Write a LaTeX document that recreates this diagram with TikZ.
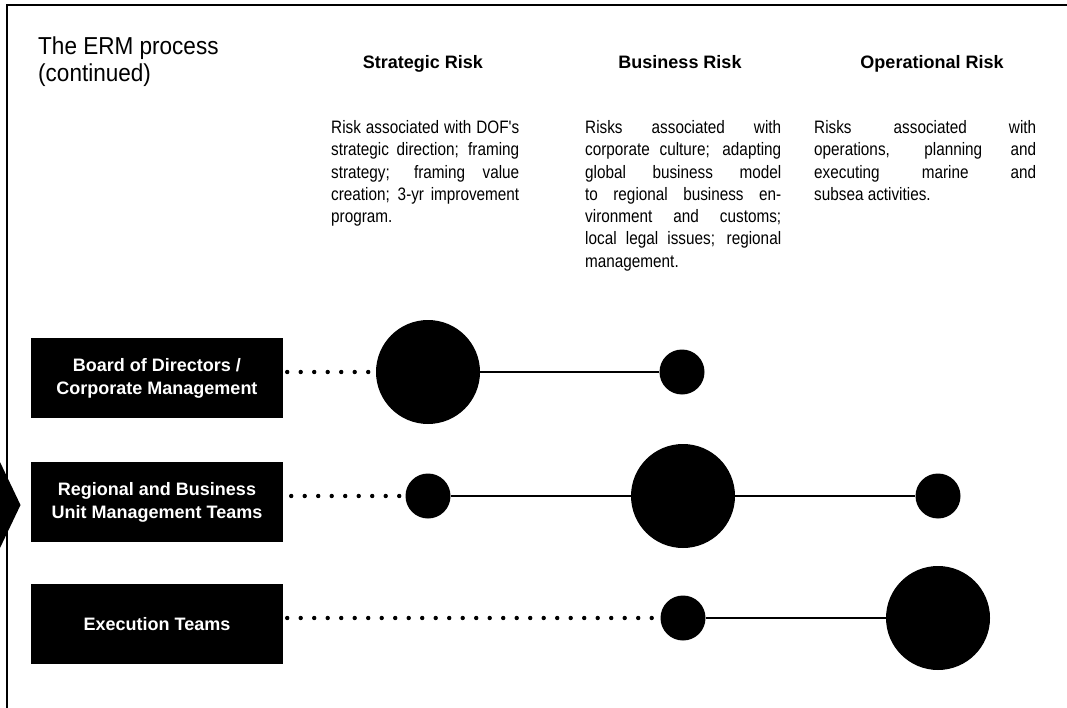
\documentclass[tikz,border=0pt]{standalone}
\usepackage{fontspec}
\setmainfont{Liberation Sans}
\newfontfamily\condfont[FakeStretch=0.85]{Liberation Sans}
\newfontfamily\titlefont[FakeStretch=0.92]{Liberation Sans}
\usetikzlibrary{calc}
\tikzset{
  rolebox/.style={fill=black, text=white, minimum width=252pt, minimum height=80pt, inner sep=0pt, align=center, font=\fontsize{18}{23}\selectfont\bfseries},
  bigdot/.style={circle, fill=black, minimum size=104pt, inner sep=0pt},
  smalldot/.style={circle, fill=black, minimum size=45pt, inner sep=0pt},
  dotline/.style={line width=4.4pt, line cap=round, dash pattern=on 0pt off 13.5pt},
  solidline/.style={line width=2pt},
  framestyle/.style={line width=2pt},
  header/.style={anchor=base, inner sep=0pt, font=\fontsize{18}{22}\selectfont\bfseries},
  desc/.style={anchor=base west, inner sep=0pt, font=\condfont\fontsize{18}{22.3}\selectfont}
}
\newcommand{\jl}[1]{\makebox[\linewidth][s]{#1}}
\begin{document}
\begin{tikzpicture}[x=1pt, y=-1pt]
\useasboundingbox (0,0) rectangle (1067,708);
% frame
\draw[framestyle] (7,708) -- (7,5) -- (1067,5);
\fill (0,462) -- (20.5,505) -- (0,548) -- cycle;
% title
\node[anchor=base west, inner sep=0pt, align=left, font=\titlefont\fontsize{24.5}{27}\selectfont] (title) at (38,82) {The ERM process\\(continued)};
% headers
\node[header] (h1) at (423,69) {Strategic Risk};
\node[header] (h2) at (680,69) {Business Risk};
\node[header] (h3) at (932,69) {Operational Risk};
% descriptions
\node[desc] (d1) at (331,133.5) {\parbox[t]{188pt}{\jl{Risk associated with DOF's}\\\jl{strategic direction; framing}\\\jl{strategy; framing value}\\\jl{creation; 3-yr improvement}\\program.}};
\node[desc] (d2) at (585,133.5) {\parbox[t]{196pt}{\jl{Risks associated with}\\\jl{corporate culture; adapting}\\\jl{global business model}\\\jl{to regional business en-}\\\jl{vironment and customs;}\\\jl{local legal issues; regional}\\management.}};
\node[desc] (d3) at (814,133.5) {\parbox[t]{222pt}{\jl{Risks associated with}\\\jl{operations, planning and}\\\jl{executing marine and}\\subsea activities.}};
% boxes
\node[rolebox] (b1) at (157,378) {Board of Directors /\\Corporate Management};
\node[rolebox] (b2) at (157,502) {Regional and Business\\Unit Management Teams};
\node[rolebox] (b3) at (157,624) {Execution Teams};
% circles
\node[bigdot] (c11) at (428,372) {};
\node[smalldot] (c12) at (682,372) {};
\node[smalldot] (c21) at (428,496) {};
\node[bigdot] (c22) at (683,496) {};
\node[smalldot] (c23) at (938,496) {};
\node[smalldot] (c31) at (683,618) {};
\node[bigdot] (c32) at (938,618) {};
% connectors
\draw[dotline] ($(b1.east |- c11)+(4,0)$) -- (c11.center);
\draw[dotline] ($(b2.east |- c21)+(8,0)$) -- (c21.center);
\draw[dotline] ($(b3.east |- c31)+(4,0)$) -- (c31.center);
\draw[solidline] (c11) -- (c12);
\draw[solidline] (c21) -- (c22) -- (c23);
\draw[solidline] (c31) -- (c32);
\end{tikzpicture}
\end{document}
